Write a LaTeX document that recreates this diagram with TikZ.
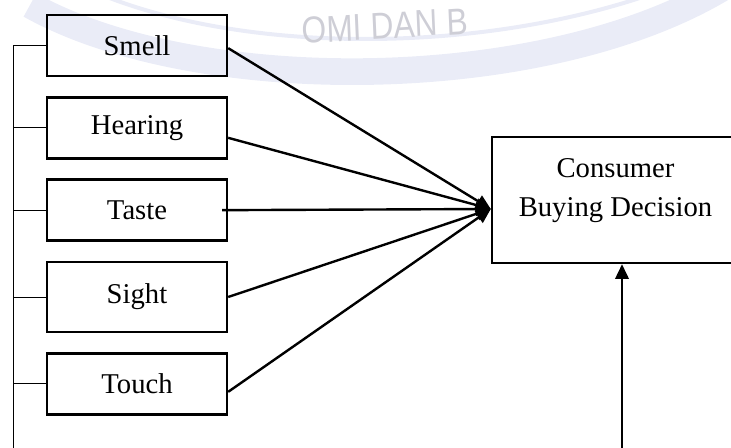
\documentclass[tikz,border=0pt]{standalone}
\usepackage{fontspec}
\setmainfont{Liberation Serif}
\setsansfont{Liberation Sans}
\usetikzlibrary{positioning,arrows.meta}
\definecolor{wmblue}{RGB}{234,236,247}
\definecolor{wmgray}{RGB}{206,206,214}

\tikzset{
	sense/.style={draw,line width=1.8pt,minimum width=135pt,minimum height=45.75pt,inner sep=0pt},
	link/.style={line width=1.8pt,-{Triangle[length=11pt,width=10pt]}},
	spine/.style={line width=0.7pt},
}

\begin{document}
\begin{tikzpicture}[x=0.75pt,y=-0.75pt,node distance=14.2pt,font=\fontsize{21.5}{29}\selectfont]

	\useasboundingbox (0,0) rectangle (731,448);

	% watermark
	\draw[wmblue,line width=20pt] (30,5) .. controls (200,100) and (560,95) .. (735,-20);
	\draw[wmblue,line width=3pt] (90,-10) .. controls (250,60) and (520,55) .. (700,-25);
	\node[wmgray,font=\sffamily\fontsize{28}{28}\selectfont,inner sep=0pt,xscale=0.85,rotate=3] (wmtext) at (385,26) {OMI DAN B};

	\node[sense] (smell) at (137,45.5) {Smell};
	\node[sense,below=of smell] (hearing) {Hearing};
	\node[sense,below=of hearing] (taste) {Taste};
	\node[sense,below=of taste,minimum height=52.5pt] (sight) {Sight};
	\node[sense,below=of sight] (touch) {Touch};

	\node[draw,line width=1.8pt,minimum width=185.25pt,minimum height=94.5pt,inner sep=0pt] (cbd) at (615.5,200) {};
	\node[align=center] (cbdtext) at ([yshift=7pt]cbd.center) {Consumer\\Buying Decision};

	\coordinate (hub) at ([yshift=-6.75pt]cbd.west);
	\coordinate (root) at (13,448);
	\coordinate (foot) at (622,448);

	\draw[spine] (root) -- (root |- smell.west);
	\foreach \s in {smell,hearing,taste,sight,touch}
		\draw[spine] (root |- \s.west) -- (\s.west);

	\draw[link] ([yshift=-2pt]smell.east) -- (hub);
	\draw[link] ([yshift=-7.5pt]hearing.east) -- (hub);
	\draw[link] ([xshift=-4.5pt]taste.east) -- (hub);
	\draw[link] (sight.east) -- (hub);
	\draw[link] ([yshift=-6pt]touch.east) -- (hub);
	\draw[link] (foot) -- (foot |- cbd.south);

\end{tikzpicture}
\end{document}
